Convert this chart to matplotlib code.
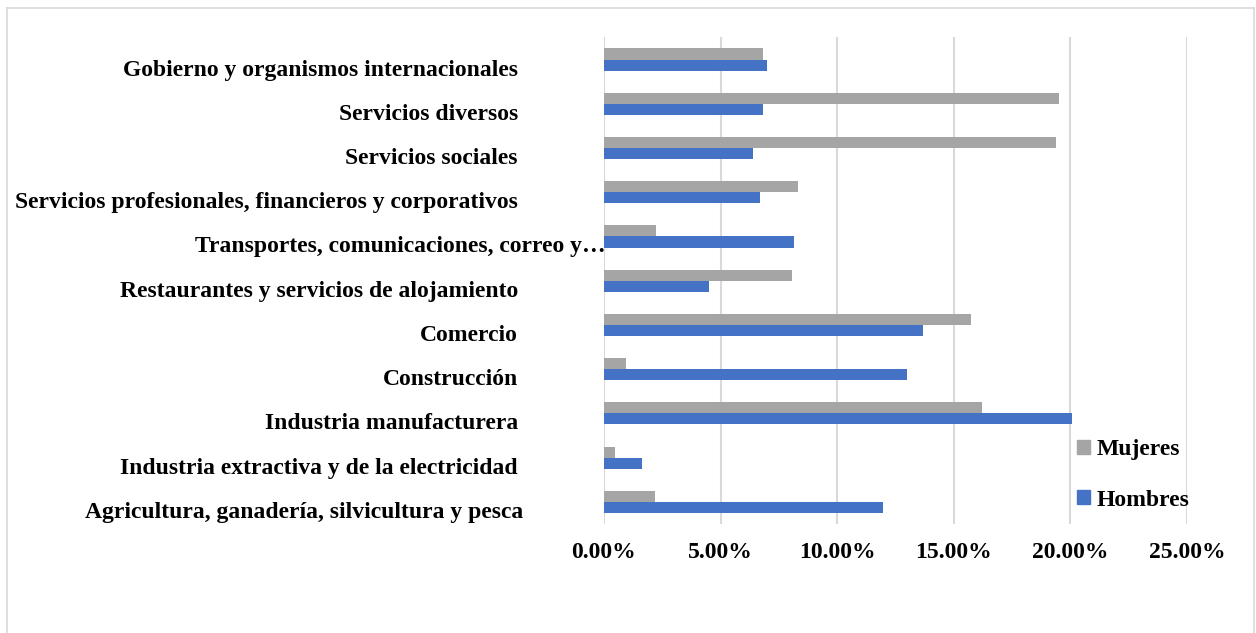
import matplotlib
matplotlib.use("Agg")
import matplotlib.pyplot as plt
import matplotlib.transforms as mtransforms
from matplotlib.patches import Patch
from matplotlib.lines import Line2D
from matplotlib.ticker import FuncFormatter
import numpy as np

plt.rcParams['font.family'] = ['Liberation Serif', 'DejaVu Serif']
plt.rcParams['font.weight'] = 'bold'

categories = [
    "Agricultura, ganadería, silvicultura y pesca",
    "Industria extractiva y de la electricidad",
    "Industria manufacturera",
    "Construcción",
    "Comercio",
    "Restaurantes y servicios de alojamiento",
    "Transportes, comunicaciones, correo y…",
    "Servicios profesionales, financieros y corporativos",
    "Servicios sociales",
    "Servicios diversos",
    "Gobierno y organismos internacionales",
]
hombres = [0.1197, 0.0164, 0.2005, 0.1299, 0.1367, 0.0451, 0.0816, 0.0669, 0.0641, 0.0681, 0.0699]
mujeres = [0.0220, 0.0046, 0.1623, 0.0094, 0.1574, 0.0807, 0.0223, 0.0834, 0.1937, 0.1949, 0.0683]
xticks = [0.0, 0.05, 0.10, 0.15, 0.20, 0.25]

W, H = 1256, 633
FS = 17
fig = plt.figure(figsize=(W / 100, H / 100), dpi=100)
ax = fig.add_axes([604 / W, 1 - 524 / H, (1187 - 604) / W, (524 - 37.4) / H])

y = np.arange(len(categories))
bh = 0.25
ax.barh(y - bh / 2, hombres, height=bh, color='#4472C4', label='Hombres', zorder=3)
ax.barh(y + bh / 2, mujeres, height=bh, color='#A5A5A5', label='Mujeres', zorder=3)

ax.set_xlim(0, 0.25)
ax.set_ylim(-0.5, len(categories) - 0.5)
ax.set_xticks(xticks)
ax.xaxis.set_major_formatter(FuncFormatter(lambda v, p: f"{v * 100:.2f}%"))
ax.set_yticks(y)
ax.set_yticklabels(categories)
ax.grid(axis='x', color='#D9D9D9', linewidth=1.5, zorder=0)
for s in ax.spines.values():
    s.set_visible(False)
ax.tick_params(axis='both', length=0, labelsize=FS)
ax.tick_params(axis='y', pad=62)
ax.tick_params(axis='x', pad=13)

# Excel offsets: labels sit a little below the bar pair; truncated label extends right
for lab in ax.get_yticklabels():
    txt = lab.get_text()
    dx = 0
    if txt.startswith("Transportes"):
        dx = 88
    elif txt.startswith("Agricultura"):
        dx = 5
    lab.set_transform(lab.get_transform() + mtransforms.ScaledTranslation(dx / 100, -8 / 100, fig.dpi_scale_trans))

handles = [Patch(color='#A5A5A5', label='Mujeres'), Patch(color='#4472C4', label='Hombres')]
fig.legend(handles=handles, loc='upper left', bbox_to_anchor=(1077 / W, 1 - 439 / H),
           frameon=False, fontsize=FS, handlelength=0.55, handleheight=0.55,
           handletextpad=0.3, labelspacing=1.25, borderaxespad=0, borderpad=0)

bc = '#D9D9D9'
x0, x1, yt = 7 / W, 1254 / W, 1 - 8 / H
for xs, ys in [([x0, x0], [0, yt]), ([x0, x1], [yt, yt]), ([x1, x1], [yt, 0])]:
    fig.add_artist(Line2D(xs, ys, transform=fig.transFigure, color=bc, linewidth=1.2))

fig.savefig("out.png", dpi=100)
